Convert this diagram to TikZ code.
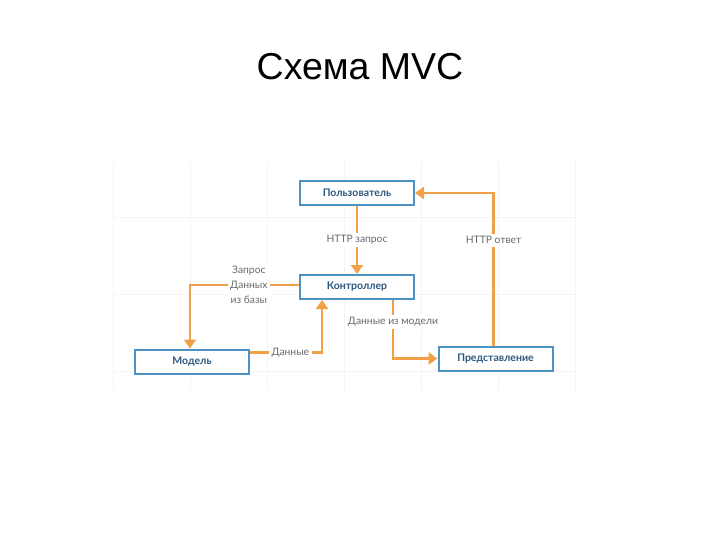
\documentclass[tikz,border=0pt]{standalone}
\usepackage{fontspec}
\setmainfont{Lato}
\newfontfamily\titlefont{Liberation Sans}
\usetikzlibrary{positioning,calc}
\usetikzlibrary{arrows.meta}
\definecolor{BoxBlue}{RGB}{78,145,195}
\definecolor{TextBlue}{RGB}{45,88,128}
\definecolor{FlowOrange}{RGB}{240,160,70}
\definecolor{LabelGray}{RGB}{105,105,105}
\definecolor{GridGray}{RGB}{244,244,244}
\tikzset{
	box/.style={draw=BoxBlue,fill=white,line width=2pt,minimum width=114pt,minimum height=24pt,
		inner sep=0pt,font=\fontsize{10.5}{12}\selectfont\bfseries,text=TextBlue},
	flow/.style={draw=FlowOrange,line width=2.2pt,-{Triangle[width=12pt,length=9pt]}},
	lbl/.style={fill=white,inner sep=2.5pt,font=\fontsize{10.3}{14.8}\selectfont,text=LabelGray,align=center},
}

\begin{document}
\begin{tikzpicture}[x=1pt,y=-1pt]
	\useasboundingbox (0,0) rectangle (720,540);
	% faint grid behind the diagram
	\foreach \x in {113,190,267,344,421,498,575}
	\draw[GridGray,line width=0.6pt] (\x,162)--(\x,390);
	\foreach \y in {217,294,371}
	\draw[GridGray,line width=0.6pt] (113,\y)--(578,\y);
	\node[font=\titlefont\fontsize{37.5}{44}\selectfont,anchor=base] (title) at (360,80) {Схема MVC};
	\node[box] (user) at (357,193) {Пользователь};
	\node[box] (ctrl) at (357,287) {Контроллер};
	\node[box] (model) at (192,361.5) {Модель};
	\node[box] (view) at (495.5,358.5) {Представление};
	\draw[flow] (user.south)--node[lbl] {HTTP запрос} (ctrl.north);
	\draw[flow] ([xshift=-2pt]view.north) |- node[lbl,pos=0.345] {HTTP ответ} (user.east);
	\draw[flow] ([yshift=2pt]ctrl.west) -| node[lbl,pos=0.23] {Запрос\\Данных\\из базы} ([xshift=-2pt]model.north);
	\draw[flow] ([yshift=9pt]model.east) -| node[lbl,pos=0.28] {Данные} ([xshift=-35pt]ctrl.south);
	\draw[flow] ([xshift=36pt]ctrl.south) |- node[lbl,pos=0.185] {Данные из модели} (view.west);
\end{tikzpicture}
\end{document}
